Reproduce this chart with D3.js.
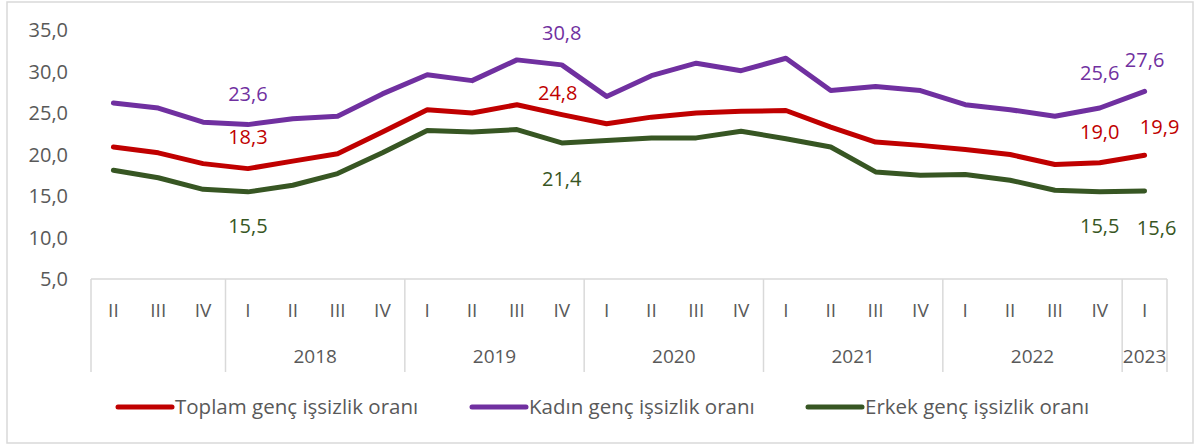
<!DOCTYPE html>
<html>
<meta charset="utf-8">
<head>
  <title>Genç işsizlik oranı</title>
</head>
<style>
body { margin: 0; background: #fff; }
svg text { font-family: "Open Sans", sans-serif; fill: #595959; }
.frame { fill: none; stroke: #d9d9d9; stroke-width: 1.5px; }
.xbox line { stroke: #d9d9d9; stroke-width: 1.5px; }
.line { fill: none; stroke-width: 5px; stroke-linejoin: round; stroke-linecap: round; }
</style>
<body>
<script src="https://cdnjs.cloudflare.com/ajax/libs/d3/7.8.5/d3.min.js"></script>
<script>

// quarters 2017 II .. 2023 I
var quarters = ["II","III","IV","I","II","III","IV","I","II","III","IV","I","II","III","IV",
                "I","II","III","IV","I","II","III","IV","I"];
var yearLabels = ["", "2018", "2019", "2020", "2021", "2022", "2023"];
var yearCounts = [3, 4, 4, 4, 4, 4, 1];

var seriesNames = ["Toplam genç işsizlik oranı", "Kadın genç işsizlik oranı", "Erkek genç işsizlik oranı"];
var toplam = [20.9, 20.2, 18.9, 18.3, 19.2, 20.1, 22.7, 25.4, 25.0, 26.0, 24.8, 23.7,
              24.5, 25.0, 25.2, 25.3, 23.3, 21.5, 21.1, 20.6, 20.0, 18.8, 19.0, 19.9];
var kadin  = [26.2, 25.6, 23.9, 23.6, 24.3, 24.6, 27.3, 29.6, 28.9, 31.4, 30.8, 27.0,
              29.5, 31.0, 30.1, 31.6, 27.7, 28.2, 27.7, 26.0, 25.4, 24.6, 25.6, 27.6];
var erkek  = [18.1, 17.2, 15.8, 15.5, 16.3, 17.7, 20.2, 22.9, 22.7, 23.0, 21.4, 21.7,
              22.0, 22.0, 22.8, 21.9, 20.9, 17.9, 17.5, 17.6, 16.9, 15.7, 15.5, 15.6];
var labelled = [3, 10, 22, 23];
var yTicks = [5, 10, 15, 20, 25, 30, 35];

var width = 1199, height = 448;
var plotL = 91, plotR = 1167, plotT = 30, plotB = 279;

var colors = ["#c00000", "#7030a0", "#375623"];
var series = [toplam, kadin, erkek];

var fmt = function(v) { return d3.format(".1f")(v).replace(".", ","); };

var svg = d3.select("body").append("svg")
    .attr("width", width)
    .attr("height", height);

svg.append("rect").attr("class", "frame")
    .attr("x", 7).attr("y", 2).attr("width", 1186).attr("height", 441);

var x = d3.scaleBand()
    .domain(d3.range(quarters.length))
    .range([plotL, plotR]);

var y = d3.scaleLinear()
    .domain([5, 35])
    .range([plotB, plotT]);

// y labels
svg.append("g").selectAll("text")
  .data(yTicks)
  .enter().append("text")
    .attr("x", 68)
    .attr("y", function(d) { return y(d); })
    .attr("dy", "0.35em")
    .attr("text-anchor", "end")
    .style("font-size", "20px")
    .text(fmt);

// x axis box with two levels
var xbox = svg.append("g").attr("class", "xbox");
xbox.append("line")
    .attr("x1", plotL).attr("x2", plotR)
    .attr("y1", plotB).attr("y2", plotB);

var starts = [0];
yearCounts.forEach(function(c, i) { starts.push(starts[i] + c); });
var edge = function(k) { return k < quarters.length ? x(k) : plotR; };

xbox.selectAll(".sep")
  .data(starts)
  .enter().append("line")
    .attr("class", "sep")
    .attr("x1", edge)
    .attr("x2", edge)
    .attr("y1", plotB).attr("y2", 372);

svg.append("g").selectAll("text")
  .data(quarters)
  .enter().append("text")
    .attr("x", function(d, i) { return x(i) + x.bandwidth() / 2; })
    .attr("y", 310)
    .attr("dy", "0.35em")
    .attr("text-anchor", "middle")
    .style("font-size", "19px")
    .text(function(d) { return d; });

svg.append("g").selectAll("text")
  .data(yearLabels)
  .enter().append("text")
    .attr("x", function(d, i) { return (edge(starts[i]) + edge(starts[i + 1])) / 2; })
    .attr("y", 356)
    .attr("dy", "0.35em")
    .attr("text-anchor", "middle")
    .style("font-size", "19px")
    .text(function(d) { return d; });

// lines
var line = d3.line()
    .x(function(d, i) { return x(i) + x.bandwidth() / 2; })
    .y(function(d) { return y(d); });

svg.append("g").selectAll("path")
  .data(series)
  .enter().append("path")
    .attr("class", "line")
    .attr("stroke", function(d, i) { return colors[i]; })
    .attr("d", line);

// data labels: toplam & kadin above, erkek below
var labelDy = [[-32, -22, -31, -28], [-31, -32, -35, -31], [34, 36, 34, 37]];
var labelDx = [[0, -4, 0, 15], [0, 0, 0, 0], [0, 0, 0, 12]];

series.forEach(function(s, si) {
  svg.append("g").selectAll("text")
    .data(labelled)
    .enter().append("text")
      .attr("x", function(d, j) { return x(d) + x.bandwidth() / 2 + labelDx[si][j]; })
      .attr("y", function(d, j) { return y(s[d]) + labelDy[si][j]; })
      .attr("dy", "0.35em")
      .attr("text-anchor", "middle")
      .style("font-size", "20px")
      .style("fill", colors[si])
      .text(function(d) { return fmt(s[d]); });
});

// legend
var legendX = [118, 472, 808];
var lg = svg.append("g").selectAll("g")
  .data(seriesNames)
  .enter().append("g")
    .attr("transform", function(d, i) { return "translate(" + legendX[i] + ",407)"; });

lg.append("line")
    .attr("x1", 0).attr("x2", 54)
    .attr("stroke", function(d, i) { return colors[i]; })
    .attr("stroke-width", 5)
    .attr("stroke-linecap", "round");

lg.append("text")
    .attr("x", 57)
    .attr("dy", "0.35em")
    .style("font-size", "20.5px")
    .text(function(d) { return d; });

</script>
</body>
</html>
